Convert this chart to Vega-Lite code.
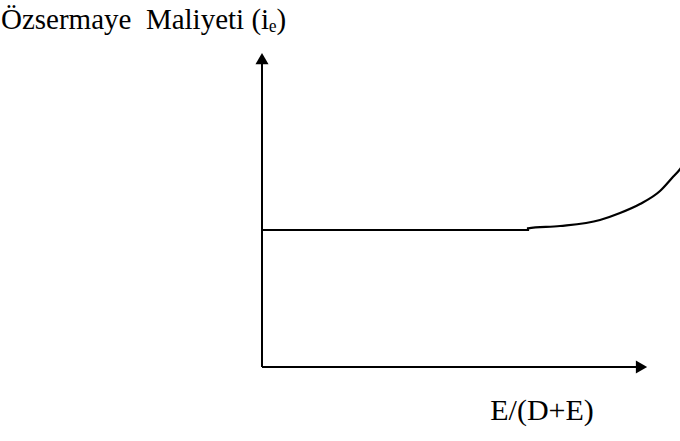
{
  "$schema": "https://vega.github.io/schema/vega-lite/v6.json",
  "width": 680,
  "height": 441,
  "padding": 0,
  "autosize": {"type": "fit", "contains": "padding"},
  "background": "white",
  "config": {"view": {"stroke": null}},
  "datasets": {
    "curve": [
      {"ratio": 0, "cost": 0.4363},
      {"ratio": 0.6909, "cost": 0.4363},
      {"ratio": 0.6909, "cost": 0.4417},
      {"ratio": 0.774, "cost": 0.449},
      {"ratio": 0.8779, "cost": 0.4682},
      {"ratio": 0.9299, "cost": 0.4904},
      {"ratio": 0.9818, "cost": 0.5191},
      {"ratio": 1.0338, "cost": 0.5605},
      {"ratio": 1.0649, "cost": 0.6019},
      {"ratio": 1.0857, "cost": 0.63},
      {"ratio": 1.0961, "cost": 0.65}
    ],
    "axes": [
      {"x": 0, "y": 0, "x2": 0, "y2": 0.965},
      {"x": 0, "y": 0, "x2": 0.9714, "y2": 0}
    ],
    "arrows": [
      {"x": 0, "y": 0.982, "shape": "triangle-up"},
      {"x": 0.9857, "y": 0, "shape": "triangle-right"}
    ],
    "labels": [
      {"x": -0.678, "y": 1.0764, "text": "Özsermaye\u00a0 Maliyeti (iₑ)", "align": "left"},
      {"x": 0.7273, "y": -0.1688, "text": "E/(D+E)", "align": "center"}
    ]
  },
  "layer": [
    {
      "data": {"name": "axes"},
      "mark": {"type": "rule", "color": "black", "strokeWidth": 2},
      "encoding": {
        "x": {"field": "x", "type": "quantitative", "scale": {"domain": [-0.6805, 1.0857], "nice": false, "zero": false}, "axis": null},
        "y": {"field": "y", "type": "quantitative", "scale": {"domain": [-0.2357, 1.1688], "nice": false, "zero": false}, "axis": null},
        "x2": {"field": "x2"},
        "y2": {"field": "y2"}
      }
    },
    {
      "data": {"name": "arrows"},
      "mark": {"type": "point", "filled": true, "color": "black", "size": 170, "opacity": 1},
      "encoding": {
        "x": {"field": "x", "type": "quantitative"},
        "y": {"field": "y", "type": "quantitative"},
        "shape": {"field": "shape", "type": "nominal", "scale": null}
      }
    },
    {
      "data": {"name": "curve"},
      "mark": {"type": "line", "color": "black", "strokeWidth": 2.2, "clip": true, "interpolate": "monotone"},
      "encoding": {
        "x": {"field": "ratio", "type": "quantitative"},
        "y": {"field": "cost", "type": "quantitative"},
        "order": {"field": "ratio", "type": "quantitative"}
      }
    },
    {
      "data": {"name": "labels"},
      "transform": [{"filter": "datum.align == 'left'"}],
      "mark": {"type": "text", "font": "'Liberation Serif', 'Times New Roman', 'DejaVu Serif', serif", "fontSize": 29, "align": "left", "baseline": "alphabetic", "color": "black"},
      "encoding": {
        "x": {"field": "x", "type": "quantitative"},
        "y": {"field": "y", "type": "quantitative"},
        "text": {"field": "text"}
      }
    },
    {
      "data": {"name": "labels"},
      "transform": [{"filter": "datum.align == 'center'"}],
      "mark": {"type": "text", "font": "'Liberation Serif', 'Times New Roman', 'DejaVu Serif', serif", "fontSize": 30, "align": "center", "baseline": "alphabetic", "color": "black"},
      "encoding": {
        "x": {"field": "x", "type": "quantitative"},
        "y": {"field": "y", "type": "quantitative"},
        "text": {"field": "text"}
      }
    }
  ]
}
